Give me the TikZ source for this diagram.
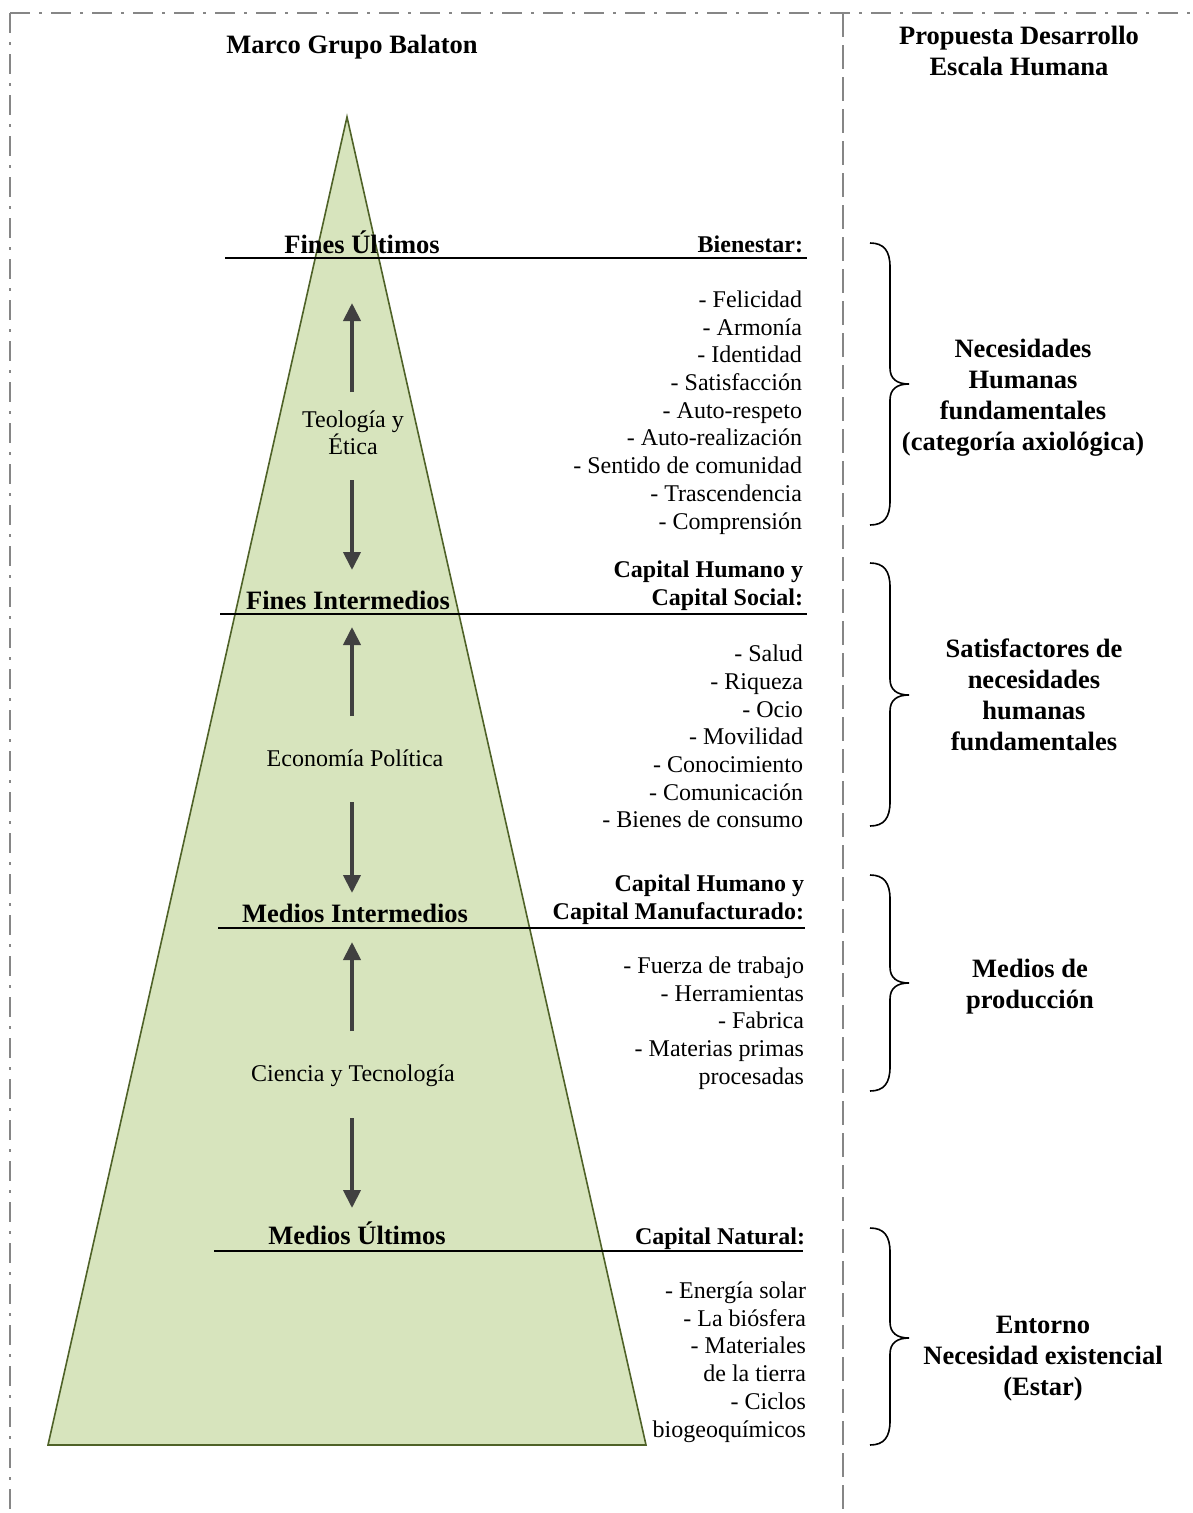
\documentclass[tikz,border=0pt]{standalone}
\usepackage{fontspec}
\setmainfont{Liberation Serif}
\usetikzlibrary{arrows.meta}
\definecolor{pyrfill}{HTML}{D7E4BD}
\definecolor{pyrline}{HTML}{4F6228}
\definecolor{arrgray}{HTML}{404040}
\definecolor{framegray}{HTML}{868686}
\begin{document}
\begin{tikzpicture}[x=1pt,y=-1pt,
  every node/.style={inner sep=0pt, outer sep=0pt},
  item/.style={font=\fontsize{24}{27.7}\selectfont, align=right, anchor=east},
  subhead/.style={font=\fontsize{24}{28}\selectfont\bfseries, align=right, anchor=east},
  level/.style={font=\fontsize{26.5}{31}\selectfont\bfseries},
  title/.style={font=\fontsize{26.5}{31}\selectfont\bfseries, align=center},
  mid/.style={font=\fontsize{24}{27.5}\selectfont, align=center},
  flow/.style={draw=arrgray, line width=4pt, -{Triangle[width=17pt,length=18pt]}},
  levelline/.style={draw=black, line width=1.8pt},
  brace/.style={draw=black, line width=1.6pt},
  frame/.style={draw=framegray, line width=2.5pt, dash pattern=on 20pt off 9pt on 3pt off 9pt},
  divider/.style={draw=framegray, line width=2.5pt, dash pattern=on 24pt off 8pt}]

\useasboundingbox[fill=white] (0,0) rectangle (1192,1513);

% frame
\draw[frame] (10,13) -- (1192,13);
\draw[frame] (10,13) -- (10,1513);
\draw[divider] (843,13) -- (843,1513);

% pyramid
\draw[fill=pyrfill, draw=pyrline, line width=1.6pt, line join=miter] (347,117) -- (646,1445) -- (48,1445) -- cycle;

% level lines
\draw[levelline] (225,258) -- (807,258);
\draw[levelline] (220,614) -- (807,614);
\draw[levelline] (218,928) -- (805,928);
\draw[levelline] (214,1251) -- (803,1251);

% titles
\node[title] (t1) at (352,47) {Marco Grupo Balaton};
\node[title] (t2) at (1019,51) {Propuesta Desarrollo\\Escala Humana};

% level labels
\node[level] (l1) at (362,242) {Fines Últimos};
\node[level] (l2) at (348,600) {Fines Intermedios};
\node[level] (l3) at (355,913) {Medios Intermedios};
\node[level] (l4) at (357,1233) {Medios Últimos};

% middle texts
\node[mid] (m1) at (353,433) {Teología y\\Ética};
\node[mid] (m2) at (355,758) {Economía Política};
\node[mid] (m3) at (353,1076) {Ciencia y Tecnología};

% arrows
\coordinate (a1s) at (352,392); \coordinate (a1e) at (352,303);
\coordinate (a2s) at (352,480); \coordinate (a2e) at (352,570);
\coordinate (a3s) at (352,716); \coordinate (a3e) at (352,627);
\coordinate (a4s) at (352,802); \coordinate (a4e) at (352,893);
\coordinate (a5s) at (352,1031); \coordinate (a5e) at (352,942);
\coordinate (a6s) at (352,1118); \coordinate (a6e) at (352,1208);
\draw[flow] (a1s) -- (a1e);
\draw[flow] (a2s) -- (a2e);
\draw[flow] (a3s) -- (a3e);
\draw[flow] (a4s) -- (a4e);
\draw[flow] (a5s) -- (a5e);
\draw[flow] (a6s) -- (a6e);

% right column headings and lists
\node[subhead] (h1) at (803,244) {Bienestar:};
\node[item] (i1) at (802,412.5) {- Felicidad\\- Armonía\\- Identidad\\- Satisfacción\\- Auto-respeto\\- Auto-realización\\- Sentido de comunidad\\- Trascendencia\\- Comprensión};
\node[subhead] (h2) at (803,586) {Capital Humano y\\Capital Social:};
\node[item] (i2) at (803,736.5) {- Salud\\- Riqueza\\- Ocio\\- Movilidad\\- Conocimiento\\- Comunicación\\- Bienes de consumo};
\node[subhead] (h3) at (804,900) {Capital Humano y\\Capital Manufacturado:};
\node[item] (i3) at (804,1023) {- Fuerza de trabajo\\- Herramientas\\- Fabrica\\- Materias primas\\procesadas};
\node[subhead] (h4) at (805,1239) {Capital Natural:};
\node[item] (i4) at (806,1362) {- Energía solar\\- La biósfera\\- Materiales\\de la tierra\\- Ciclos\\biogeoquímicos};

% braces
\foreach \t/\m/\b in {243/384/525, 563/695/826, 875/983/1091, 1228/1338/1445}{
  \draw[brace] (870,\t) .. controls (884,\t) and (890,\t+8) .. (890,\t+24)
    -- (890,\m-16) .. controls (890,\m-5) and (897,\m) .. (909,\m)
    .. controls (897,\m) and (890,\m+5) .. (890,\m+16)
    -- (890,\b-24) .. controls (890,\b-8) and (884,\b) .. (870,\b);
}

% brace labels
\node[title] (b1) at (1023,398) {Necesidades\\Humanas\\fundamentales\\(categoría axiológica)};
\node[title] (b2) at (1034,695) {Satisfactores de\\necesidades\\humanas\\fundamentales};
\node[title] (b3) at (1030,987) {Medios de\\producción};
\node[title] (b4) at (1043,1359) {Entorno\\Necesidad existencial\\(Estar)};
\end{tikzpicture}
\end{document}
